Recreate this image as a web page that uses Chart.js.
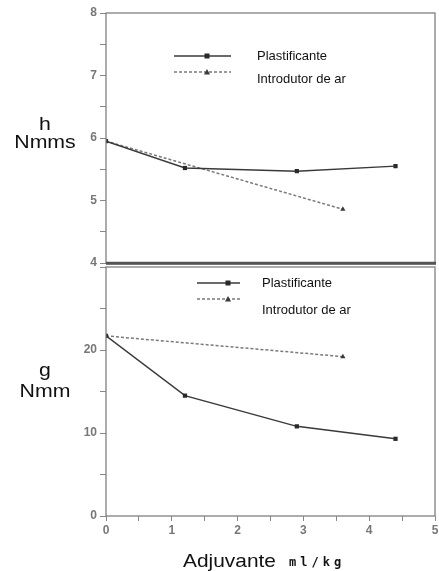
<!DOCTYPE html>
<html lang="pt">
<head>
<meta charset="UTF-8">
<script src="https://cdn.jsdelivr.net/npm/chart.js"></script>
<title>Adjuvante</title>
<style>
body { margin: 0; background: #fff; }
#wrap { position: relative; width: 439px; height: 571px; overflow: hidden; }
canvas { position: absolute; left: 0; }
</style>
</head>
<body>
<div id="wrap">
  <canvas id="bottom" width="439" height="308" style="top:263px"></canvas>
  <canvas id="top" width="439" height="280" style="top:0"></canvas>
</div>
<script>
// values
const seriesNames = ['Plastificante', 'Introdutor de ar'];
const xPlast = [0, 1.2, 2.9, 4.4];
const xIntro = [0, 3.6];
const hPlast = [5.95, 5.52, 5.47, 5.55];
const hIntro = [5.95, 4.86];
const gPlast = [21.7, 14.5, 10.8, 9.3];
const gIntro = [21.7, 19.2];
const xTickLabels = [0, 1, 2, 3, 4, 5];
const hTickLabels = [4, 5, 6, 7, 8];
const gTickLabels = [0, 10, 20];

const pts = (xs, ys) => xs.map((x, i) => ({ x: x, y: ys[i] }));

function makeSets(plast, intro) {
    return [
        { label: seriesNames[0], data: pts(xPlast, plast), borderColor: '#3a3a3a', backgroundColor: '#2a2a2a',
          borderWidth: 1.5, pointStyle: 'rect', pointRadius: 3, pointBorderWidth: 0 },
        { label: seriesNames[1], data: pts(xIntro, intro), borderColor: '#7a7a7a', backgroundColor: '#3a3a3a',
          borderWidth: 1.5, borderDash: [3, 2], pointStyle: 'triangle', pointRadius: 3, pointBorderWidth: 0 }
    ];
}

function marker(ctx, style, x, y) {
    ctx.beginPath();
    if (style === 'rect') {
        ctx.rect(x - 2.5, y - 2.5, 5, 5);
    } else {
        ctx.moveTo(x, y - 3); ctx.lineTo(x + 3, y + 2.5); ctx.lineTo(x - 3, y + 2.5); ctx.closePath();
    }
    ctx.fill();
}

// frame, legend and free axis titles
const deco = {
    id: 'deco',
    afterDraw(chart, args, o) {
        const ctx = chart.ctx, a = chart.chartArea;
        ctx.save();
        ctx.strokeStyle = '#808080';
        ctx.lineWidth = 1.3;
        ctx.strokeRect(a.left, a.top, a.right - a.left, a.bottom - a.top);
        if (o.thick != null) {
            ctx.strokeStyle = '#555';
            ctx.lineWidth = 2.5;
            ctx.beginPath(); ctx.moveTo(a.left, o.thick); ctx.lineTo(a.right + 1, o.thick); ctx.stroke();
        }
        // legend
        chart.data.datasets.forEach((ds, i) => {
            ctx.strokeStyle = ds.borderColor;
            ctx.lineWidth = 1.3;
            ctx.setLineDash(ds.borderDash || []);
            ctx.beginPath(); ctx.moveTo(o.lx0, o.ly[i]); ctx.lineTo(o.lx1, o.ly[i]); ctx.stroke();
            ctx.setLineDash([]);
            ctx.fillStyle = ds.backgroundColor;
            marker(ctx, ds.pointStyle, o.mx, o.ly[i]);
            ctx.fillStyle = '#111';
            ctx.font = '13px "Liberation Sans", Arial, sans-serif';
            ctx.textBaseline = 'middle';
            ctx.textAlign = 'left';
            ctx.fillText(ds.label, o.tx, o.ty[i]);
        });
        // titles
        (o.titles || []).forEach(t => {
            ctx.save();
            ctx.translate(t.x, t.y);
            ctx.scale(t.sx || 1, 1);
            ctx.fillStyle = '#111';
            ctx.font = t.font;
            ctx.textAlign = t.align || 'center';
            ctx.textBaseline = 'alphabetic';
            if (t.spacing) ctx.letterSpacing = t.spacing;
            ctx.fillText(t.text, 0, 0);
            ctx.restore();
        });
        ctx.restore();
    }
};

const tickFont = { family: '"Liberation Sans", Arial, sans-serif', size: 12, weight: 'bold' };
const titleFont = '19px "Liberation Sans", Arial, sans-serif';

function yScale(min, max, step, labels) {
    return {
        min: min, max: max,
        ticks: { stepSize: step, color: '#777', font: tickFont, padding: 3,
                 callback: v => labels.includes(v) ? String(v) : '' },
        grid: { drawOnChartArea: false, drawTicks: true, tickLength: 6, color: '#888' },
        border: { display: false },
        afterFit: s => { s.width = 106; s.paddingTop = 0; s.paddingBottom = 0; }
    };
}

new Chart(document.getElementById('top'), {
    type: 'line',
    data: { datasets: makeSets(hPlast, hIntro) },
    options: {
        responsive: false, animation: false,
        layout: { padding: { top: 13, right: 3, bottom: 17, left: 0 } },
        scales: {
            x: { type: 'linear', min: 0, max: 5, display: false },
            y: yScale(4, 8, 0.5, hTickLabels)
        },
        plugins: {
            legend: { display: false }, tooltip: { enabled: false },
            deco: {
                thick: 263, lx0: 174, lx1: 231, mx: 207, ly: [56, 72], tx: 257, ty: [56, 79],
                titles: [
                    { text: 'h', x: 45, y: 130, font: titleFont, sx: 1.12 },
                    { text: 'Nmms', x: 45, y: 148, font: titleFont, sx: 1.12 }
                ]
            }
        }
    },
    plugins: [deco]
});

new Chart(document.getElementById('bottom'), {
    type: 'line',
    data: { datasets: makeSets(gPlast, gIntro) },
    options: {
        responsive: false, animation: false,
        layout: { padding: { top: 1, right: 3, bottom: 0, left: 0 } },
        scales: {
            x: {
                type: 'linear', min: 0, max: 5,
                ticks: { stepSize: 0.5, color: '#777', font: tickFont, padding: 2, maxRotation: 0, autoSkip: false,
                         callback: v => xTickLabels.includes(v) ? String(v) : '' },
                grid: { drawOnChartArea: false, drawTicks: true, tickLength: 5, color: '#888' },
                border: { display: false },
                afterFit: s => { s.height = 55; s.paddingLeft = 0; s.paddingRight = 0; }
            },
            y: yScale(0, 30, 5, gTickLabels)
        },
        plugins: {
            legend: { display: false }, tooltip: { enabled: false },
            deco: {
                thick: 0.5, lx0: 197, lx1: 240, mx: 228, ly: [20, 36], tx: 262, ty: [20, 47],
                titles: [
                    { text: 'g', x: 45, y: 113, font: titleFont, sx: 1.12 },
                    { text: 'Nmm', x: 45, y: 134, font: titleFont, sx: 1.12 },
                    { text: 'Adjuvante', x: 183, y: 304, font: titleFont, sx: 1.1, align: 'left' },
                    { text: 'ml/kg', x: 289, y: 303, font: 'bold 12px "DejaVu Sans Mono", monospace', spacing: '4px', align: 'left' }
                ]
            }
        }
    },
    plugins: [deco]
});
</script>
</body>
</html>
